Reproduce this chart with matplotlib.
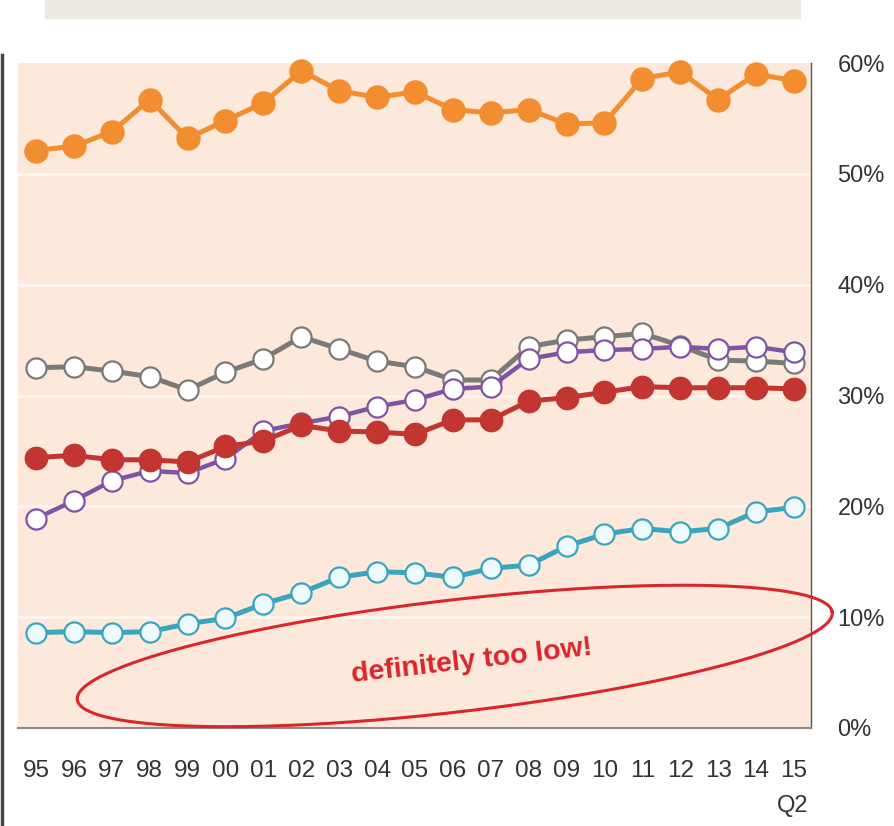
import numpy as np
import matplotlib
matplotlib.use('Agg')
import matplotlib.pyplot as plt
from matplotlib.lines import Line2D
from matplotlib.patches import Rectangle

plt.rcParams['font.family'] = ['Liberation Sans', 'DejaVu Sans']

# Years 1995 .. 2015 (Q2)
years = ['95', '96', '97', '98', '99', '00', '01', '02', '03', '04', '05',
         '06', '07', '08', '09', '10', '11', '12', '13', '14', '15']

orange = [52.1, 52.5, 53.8, 56.7, 53.2, 54.8, 56.4, 59.3, 57.5, 56.9, 57.4,
          55.8, 55.5, 55.8, 54.5, 54.6, 58.6, 59.2, 56.7, 59.0, 58.4]
grey = [32.5, 32.6, 32.2, 31.7, 30.5, 32.1, 33.3, 35.3, 34.2, 33.1, 32.6,
        31.4, 31.4, 34.4, 35.0, 35.3, 35.6, 34.5, 33.2, 33.1, 32.9]
purple = [18.9, 20.5, 22.3, 23.2, 23.0, 24.3, 26.8, 27.5, 28.1, 29.0, 29.6,
          30.6, 30.8, 33.3, 33.9, 34.1, 34.2, 34.4, 34.2, 34.4, 33.9]
red = [24.4, 24.6, 24.2, 24.2, 24.0, 25.4, 25.9, 27.3, 26.8, 26.7, 26.5,
       27.8, 27.8, 29.5, 29.8, 30.3, 30.8, 30.7, 30.7, 30.7, 30.6]
cyan = [8.6, 8.7, 8.6, 8.7, 9.4, 9.9, 11.2, 12.2, 13.6, 14.1, 14.0,
        13.6, 14.4, 14.7, 16.4, 17.5, 18.0, 17.7, 18.0, 19.5, 19.9]

yticks = [0, 10, 20, 30, 40, 50, 60]

W, H = 894, 826
fig = plt.figure(figsize=(W / 100, H / 100), dpi=100)
fig.patch.set_facecolor('white')

# plot area in pixels: left 18, right 811, top 63, bottom 728
ax = fig.add_axes([18 / W, (H - 728) / H, (811 - 18) / W, (728 - 63) / H])
ax.set_facecolor('#FCE9DC')

x = np.arange(len(years))
ax.set_xlim(-0.475, 20.45)
ax.set_ylim(0, 60)

for v in yticks[1:-1]:
    ax.axhline(v, color='#FFF6F0', lw=2, zorder=1)

def series(vals, color, face, zo, lw=3.6, ms=14.5, mew=1.6):
    ax.plot(x, vals, color=color, lw=lw, marker='o', ms=ms, mfc=face,
            mec=color, mew=mew, zorder=zo, clip_on=False)

series(grey, '#7A7A78', 'white', 3)
series(purple, '#7D55A3', 'white', 4, lw=3.2)
series(red, '#C33531', '#C33531', 5, ms=15.5)
series(cyan, '#3AA5BE', '#EEFAFD', 6)
series(orange, '#F28E2F', '#F28E2F', 7, ms=16)

# annotation ellipse, built in pixel space then mapped to data units
sx = (811 - 18) / (20.45 + 0.475)
sy = (728 - 63) / 60.0
cx, cy = 11.05, 6.5
a, b, th = 380.0, 56.0, np.radians(6.6)
phi = np.linspace(0, 2 * np.pi, 400)
ex = cx + (a * np.cos(phi) * np.cos(th) - b * np.sin(phi) * np.sin(th)) / sx
ey = cy + (a * np.cos(phi) * np.sin(th) + b * np.sin(phi) * np.cos(th)) / sy
ax.plot(ex, ey, color='#D8262C', lw=2.2, zorder=8, clip_on=False)
ax.text(11.5, 6.0, 'definitely too low!', color='#D8262C', fontsize=20.5,
        fontweight='bold', rotation=6.5, ha='center', va='center', zorder=9)

for s in ['top', 'left']:
    ax.spines[s].set_visible(False)
ax.spines['right'].set_color('#555555')
ax.spines['right'].set_linewidth(1.0)
ax.spines['bottom'].set_color('#8A8A8A')
ax.spines['bottom'].set_linewidth(1.5)

ax.yaxis.tick_right()
ax.set_yticks(yticks)
ax.set_yticklabels([f'{v}%' for v in yticks])
ax.set_xticks(x)
ax.set_xticklabels(years)
ax.tick_params(axis='y', length=0, pad=19, labelsize=17, labelcolor='#333333')
ax.tick_params(axis='x', length=0, pad=23, labelsize=17.5, labelcolor='#333333')

fig.text(793 / W, 1 - 806 / H, 'Q2', fontsize=17, color='#333333',
         ha='center', va='center')

# grey header strip and outer frame line on the left
fig.patches.append(Rectangle((45 / W, 1 - 18 / H), 755 / W, 18 / H,
                             transform=fig.transFigure, color='#ECE9E2'))
fig.lines.append(Line2D([1.5 / W, 1.5 / W], [0, 1 - 55 / H],
                        transform=fig.transFigure, color='#444444', lw=2.5))

fig.savefig('out.png', dpi=100)
